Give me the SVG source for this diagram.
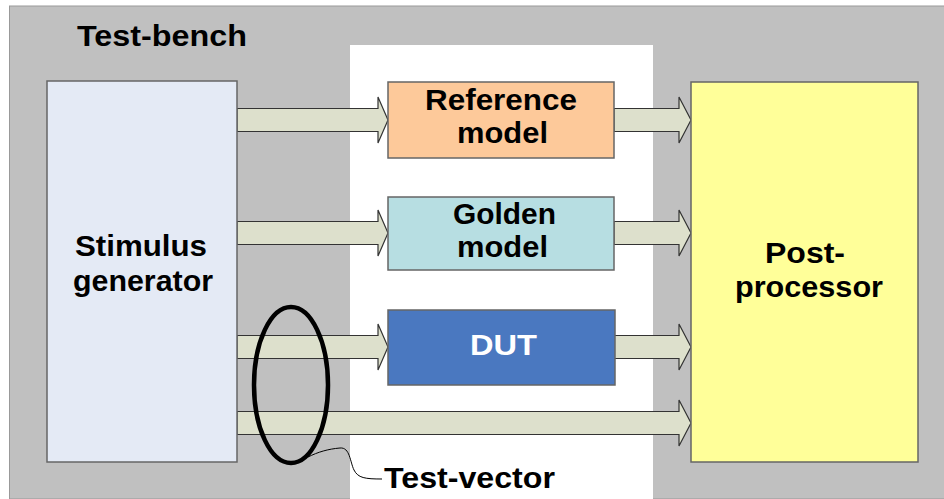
<svg xmlns="http://www.w3.org/2000/svg" width="944" height="499" viewBox="0 0 944 499">
<style>
text{font-family:"Liberation Sans",Arial,sans-serif;font-weight:bold;font-size:29px;fill:#000}
.box{stroke:#666;stroke-width:1.5}
.arr{fill:#dde0cc;stroke:#333;stroke-width:1.2}
</style>
<rect x="0" y="0" width="944" height="499" fill="#ffffff"/>
<rect x="9.5" y="6" width="935" height="493" fill="#c0c0c0" stroke="#999" stroke-width="1"/>
<rect x="350" y="45" width="303" height="454" fill="#ffffff"/>
<text x="77" y="46" textLength="170" lengthAdjust="spacingAndGlyphs">Test-bench</text>

<g id="connectors">
<path class="arr" d="M237,108.5 H378 V97 L388,120 L378,143 V131.5 H237 Z"/>
<path class="arr" d="M237,221.5 H378 V210 L388,233 L378,256 V244.5 H237 Z"/>
<path class="arr" d="M237,335.5 H378 V324 L388,347 L378,370 V358.5 H237 Z"/>
<path class="arr" d="M237,411.5 H679 V400 L691,423 L679,446 V434.5 H237 Z"/>
<path class="arr" d="M614,108.5 H679 V97 L691,120 L679,143 V131.5 H614 Z"/>
<path class="arr" d="M614,221.5 H679 V210 L691,233 L679,256 V244.5 H614 Z"/>
<path class="arr" d="M614,335.5 H679 V324 L691,347 L679,370 V358.5 H614 Z"/>
</g>

<g id="stimulus">
<rect class="box" x="47" y="81" width="190" height="381" fill="#e4eaf5"/>
<text x="75" y="256" textLength="132" lengthAdjust="spacingAndGlyphs">Stimulus</text>
<text x="73" y="291" textLength="140" lengthAdjust="spacingAndGlyphs">generator</text>
</g>

<g id="reference">
<rect class="box" x="388" y="82" width="226" height="76" fill="#fdc99a"/>
<text x="425" y="110" textLength="152" lengthAdjust="spacingAndGlyphs">Reference</text>
<text x="457" y="143" textLength="91" lengthAdjust="spacingAndGlyphs">model</text>
</g>

<g id="golden">
<rect class="box" x="388" y="197" width="226" height="73" fill="#b7dee2"/>
<text x="453" y="224" textLength="103" lengthAdjust="spacingAndGlyphs">Golden</text>
<text x="457" y="257" textLength="91" lengthAdjust="spacingAndGlyphs">model</text>
</g>

<g id="dut">
<rect class="box" x="388" y="310" width="227" height="75" fill="#4a78c0"/>
<text x="470" y="355" textLength="67" lengthAdjust="spacingAndGlyphs" style="fill:#fff">DUT</text>
</g>

<g id="postprocessor">
<rect class="box" x="691" y="82" width="227" height="380" fill="#ffff99"/>
<text x="765" y="263" textLength="80" lengthAdjust="spacingAndGlyphs">Post-</text>
<text x="735" y="297" textLength="148" lengthAdjust="spacingAndGlyphs">processor</text>
</g>

<g id="testvector">
<ellipse cx="291" cy="385" rx="37" ry="78" fill="none" stroke="#000" stroke-width="4.5"/>
<path d="M308,457 C318,452 328,449 340,448 C350,447 350,462 354,470 C358,478 365,479 382,479" fill="none" stroke="#000" stroke-width="1"/>
<text x="384" y="488" textLength="171" lengthAdjust="spacingAndGlyphs">Test-vector</text>
</g>
</svg>
